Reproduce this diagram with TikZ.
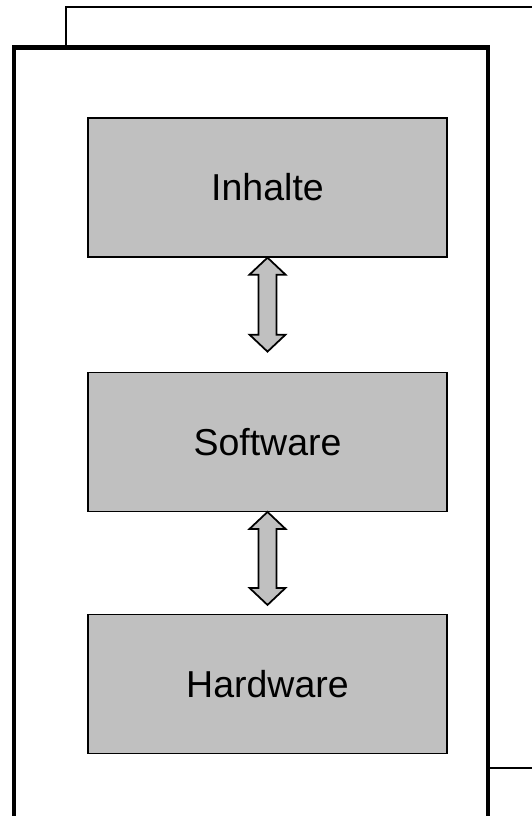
\documentclass[tikz,border=0pt]{standalone}
\usepackage{fontspec}
\setmainfont{Liberation Sans}
\definecolor{layergray}{RGB}{192, 192, 192}
\usetikzlibrary{positioning}

\begin{document}
\begin{tikzpicture}[
  layer/.style={draw, line width=1.1pt, fill=layergray, minimum width=10.77cm, minimum height=4.17cm, inner sep=0pt, font=\fontsize{32}{38}\selectfont},
  dblarrow/.style={draw, line width=1.5pt, fill=layergray, line join=miter}
]
  \useasboundingbox (0, 0) rectangle (15.93, 24.48);

  % sheet behind
  \draw[line width=1.1pt] (1.98, 1.44) rectangle (16.5, 24.27);
  % front sheet
  \draw[line width=3.9pt, fill=white] (0.42, -0.5) rectangle (14.64, 23.055);

  \node[layer] (inhalte) at (8.025, 18.855) {Inhalte};
  \node[layer, below=3.42cm of inhalte] (software) {Software};
  \node[layer, below=3.06cm of software] (hardware) {Hardware};

  % two-way arrows between the layers
  \draw[dblarrow] (inhalte.south) -- ++(0.54, -0.51) -- ++(-0.27, 0) -- ++(0, -1.8)
    -- ++(0.27, 0) -- ++(-0.54, -0.51) -- ++(-0.54, 0.51) -- ++(0.27, 0)
    -- ++(0, 1.8) -- ++(-0.27, 0) -- cycle;
  \draw[dblarrow] (software.south) -- ++(0.54, -0.51) -- ++(-0.27, 0) -- ++(0, -1.77)
    -- ++(0.27, 0) -- ++(-0.54, -0.51) -- ++(-0.54, 0.51) -- ++(0.27, 0)
    -- ++(0, 1.77) -- ++(-0.27, 0) -- cycle;
\end{tikzpicture}
\end{document}
